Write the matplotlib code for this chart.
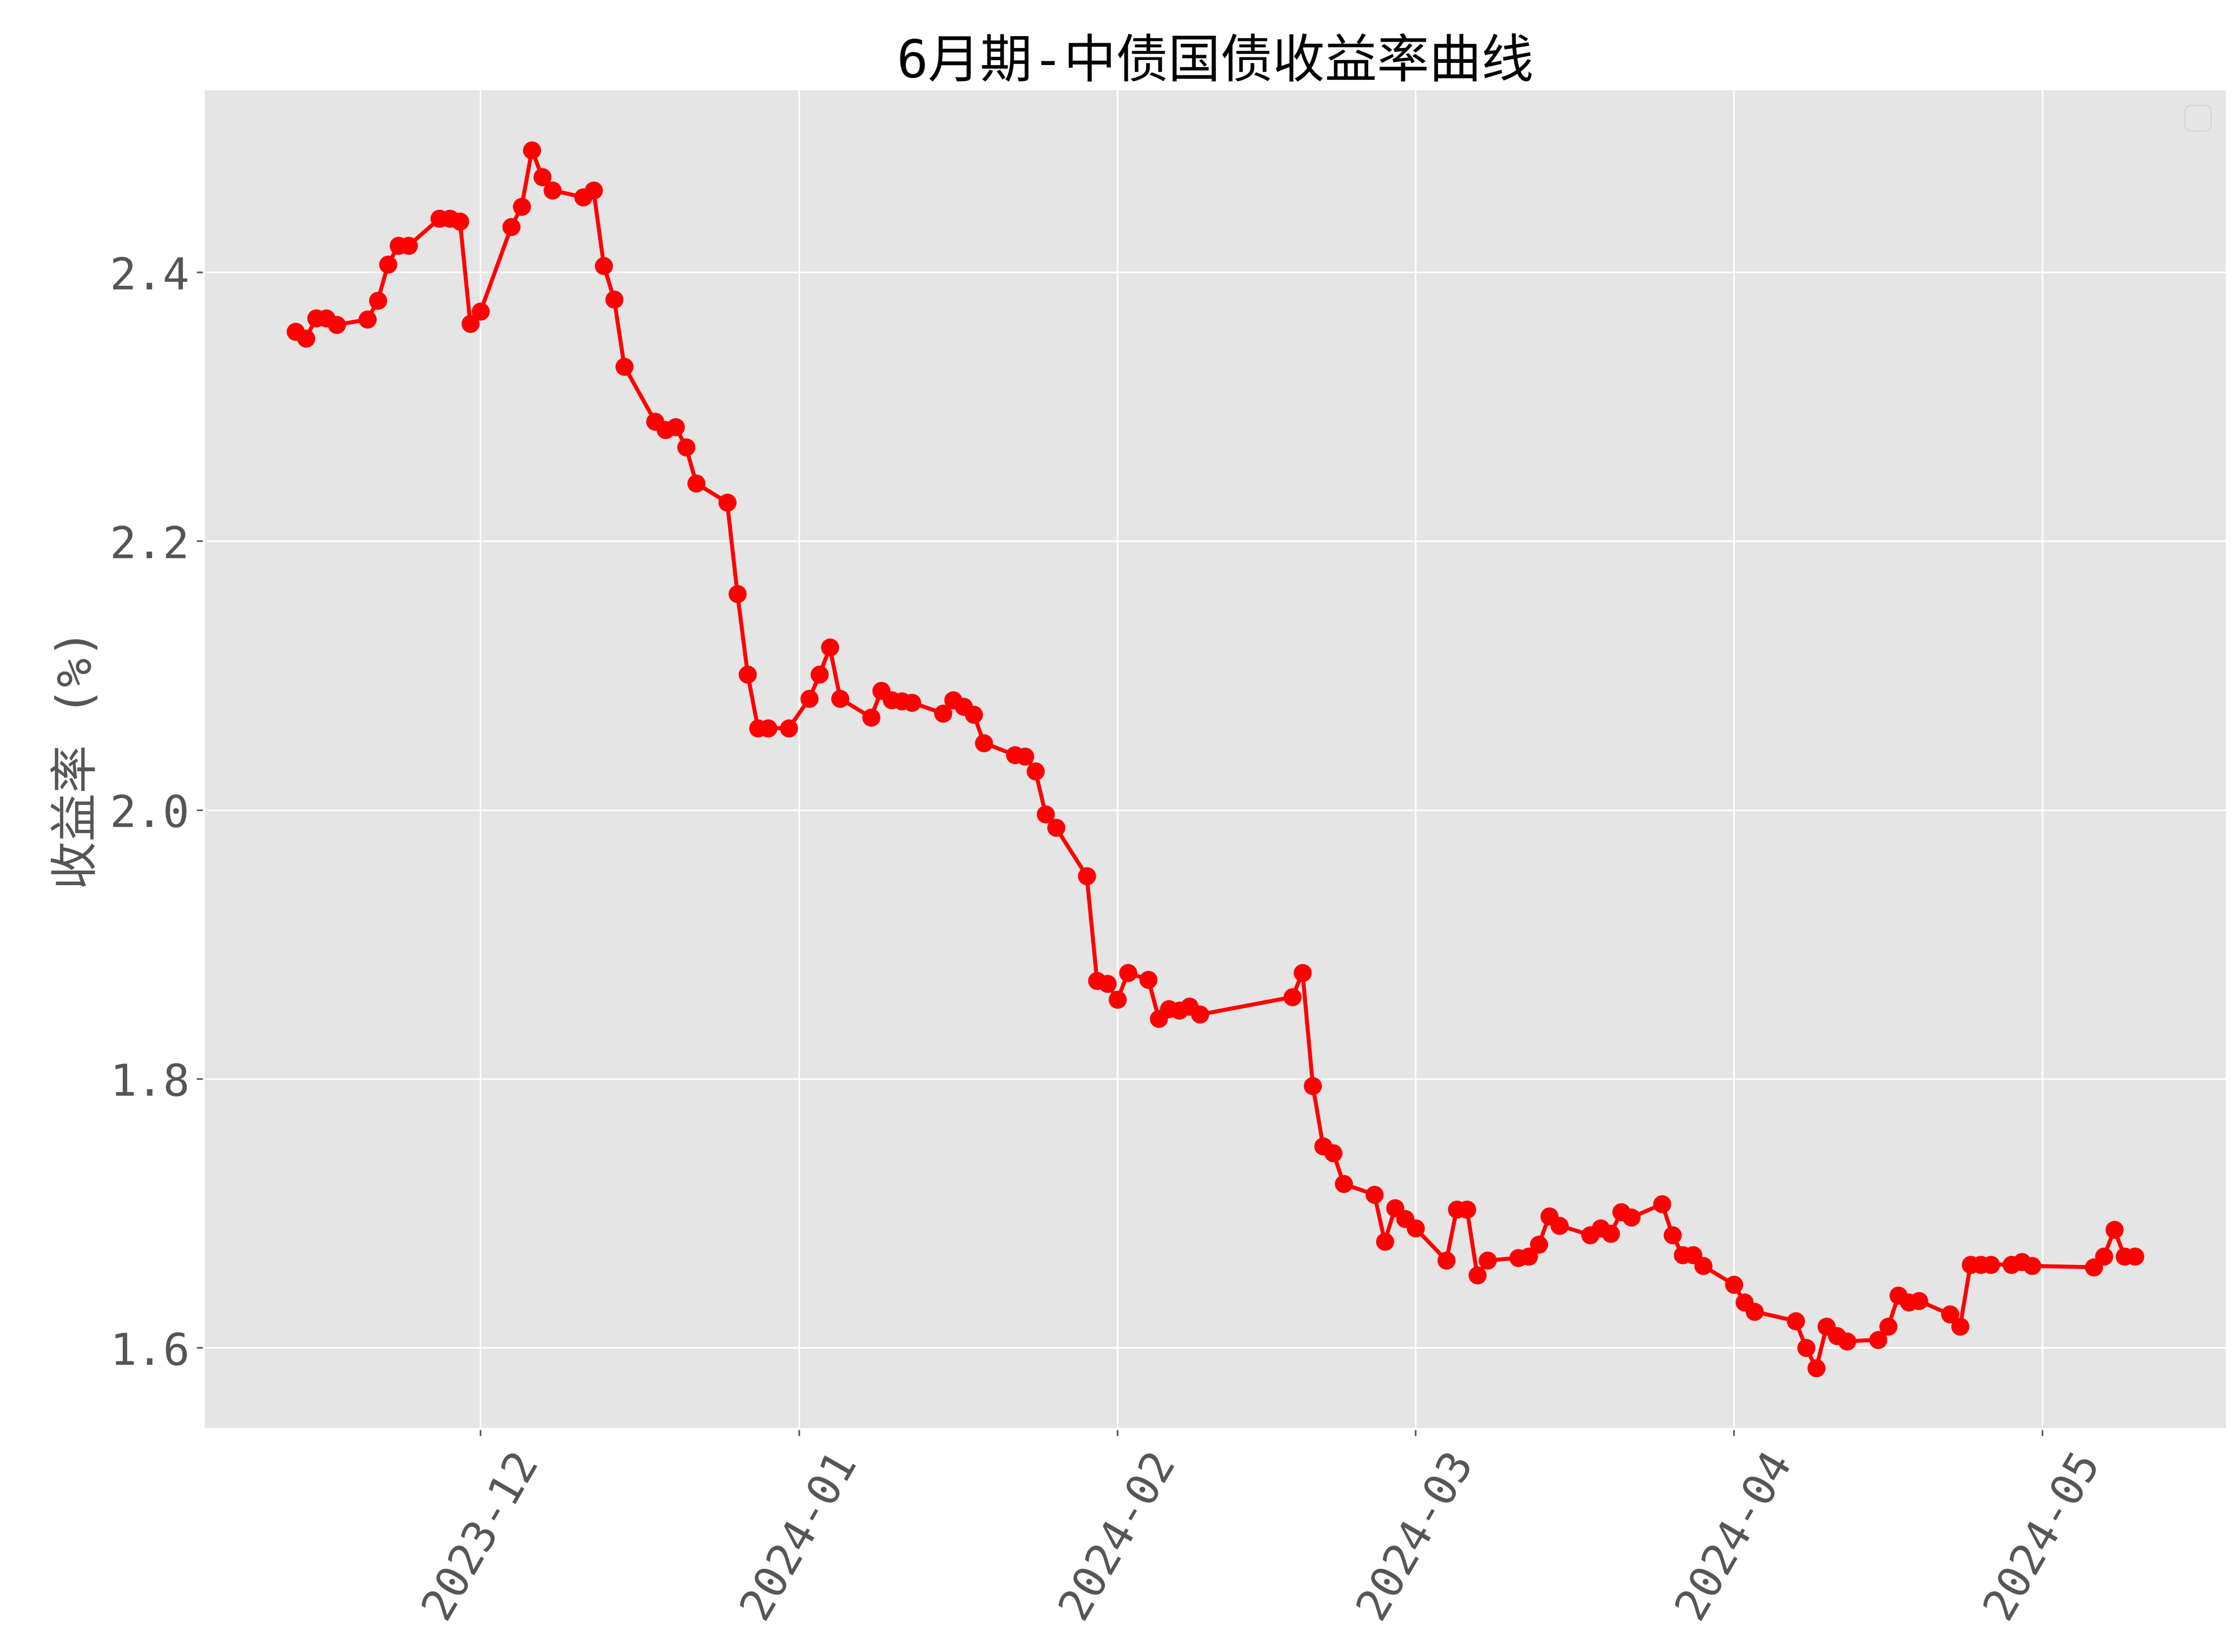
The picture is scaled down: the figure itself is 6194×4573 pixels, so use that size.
import matplotlib
matplotlib.use("Agg")
import matplotlib.pyplot as plt
import matplotlib.dates as mdates
import pandas as pd

# 6月期 中债国债收益率 (%)
dates = [
    "2023-11-13", "2023-11-14", "2023-11-15", "2023-11-16", "2023-11-17",
    "2023-11-20", "2023-11-21", "2023-11-22", "2023-11-23", "2023-11-24",
    "2023-11-27", "2023-11-28", "2023-11-29", "2023-11-30", "2023-12-01",
    "2023-12-04", "2023-12-05", "2023-12-06", "2023-12-07", "2023-12-08",
    "2023-12-11", "2023-12-12", "2023-12-13", "2023-12-14", "2023-12-15",
    "2023-12-18", "2023-12-19", "2023-12-20", "2023-12-21", "2023-12-22",
    "2023-12-25", "2023-12-26", "2023-12-27", "2023-12-28", "2023-12-29",
    "2023-12-31", "2024-01-02", "2024-01-03", "2024-01-04", "2024-01-05",
    "2024-01-08", "2024-01-09", "2024-01-10", "2024-01-11", "2024-01-12",
    "2024-01-15", "2024-01-16", "2024-01-17", "2024-01-18", "2024-01-19",
    "2024-01-22", "2024-01-23", "2024-01-24", "2024-01-25", "2024-01-26",
    "2024-01-29", "2024-01-30", "2024-01-31", "2024-02-01", "2024-02-02",
    "2024-02-04", "2024-02-05", "2024-02-06", "2024-02-07", "2024-02-08",
    "2024-02-09", "2024-02-18", "2024-02-19", "2024-02-20", "2024-02-21",
    "2024-02-22", "2024-02-23", "2024-02-26", "2024-02-27", "2024-02-28",
    "2024-02-29", "2024-03-01", "2024-03-04", "2024-03-05", "2024-03-06",
    "2024-03-07", "2024-03-08", "2024-03-11", "2024-03-12", "2024-03-13",
    "2024-03-14", "2024-03-15", "2024-03-18", "2024-03-19", "2024-03-20",
    "2024-03-21", "2024-03-22", "2024-03-25", "2024-03-26", "2024-03-27",
    "2024-03-28", "2024-03-29", "2024-04-01", "2024-04-02", "2024-04-03",
    "2024-04-07", "2024-04-08", "2024-04-09", "2024-04-10", "2024-04-11",
    "2024-04-12", "2024-04-15", "2024-04-16", "2024-04-17", "2024-04-18",
    "2024-04-19", "2024-04-22", "2024-04-23", "2024-04-24", "2024-04-25",
    "2024-04-26", "2024-04-28", "2024-04-29", "2024-04-30", "2024-05-06",
    "2024-05-07", "2024-05-08", "2024-05-09", "2024-05-10",
]
yields = [
    2.356, 2.351, 2.366, 2.366, 2.361,
    2.365, 2.379, 2.406, 2.420, 2.420,
    2.440, 2.440, 2.438, 2.362, 2.371,
    2.434, 2.449, 2.491, 2.471, 2.461,
    2.456, 2.461, 2.405, 2.380, 2.330,
    2.289, 2.283, 2.285, 2.270, 2.243,
    2.229, 2.161, 2.101, 2.061, 2.061,
    2.061, 2.083, 2.101, 2.121, 2.083,
    2.069, 2.089, 2.082, 2.081, 2.080,
    2.072, 2.082, 2.077, 2.071, 2.050,
    2.041, 2.040, 2.029, 1.997, 1.987,
    1.951, 1.873, 1.871, 1.859, 1.879,
    1.874, 1.845, 1.852, 1.851, 1.854,
    1.848, 1.861, 1.879, 1.795, 1.750,
    1.745, 1.722, 1.714, 1.679, 1.704,
    1.696, 1.689, 1.665, 1.703, 1.703,
    1.654, 1.665, 1.667, 1.668, 1.677,
    1.698, 1.691, 1.684, 1.689, 1.685,
    1.701, 1.697, 1.707, 1.684, 1.669,
    1.669, 1.661, 1.647, 1.634, 1.627,
    1.620, 1.600, 1.585, 1.616, 1.609,
    1.605, 1.606, 1.616, 1.639, 1.634,
    1.635, 1.625, 1.616, 1.662, 1.662,
    1.662, 1.662, 1.664, 1.661, 1.660,
    1.668, 1.688, 1.668, 1.668,
]

plt.style.use("ggplot")
# 等宽数字 + 中文字体，接近参考图的黑体风格
plt.rcParams['font.family'] = ['DejaVu Sans Mono', 'Noto Sans CJK SC']
plt.rcParams['axes.unicode_minus'] = False

x = pd.to_datetime(dates)

fig = plt.figure(figsize=(15.485, 11.4325), dpi=400)
ax = fig.add_axes([0.091, 0.135, 0.904, 0.811])
ax.plot(x, yields, color="red", marker="o", markersize=8, linewidth=2)

ax.set_title("6月期-中债国债收益率曲线", fontsize=26, color="black")
ax.set_ylabel("收益率 (%)", fontsize=24)
ax.xaxis.set_major_locator(mdates.MonthLocator())
ax.xaxis.set_major_formatter(mdates.DateFormatter("%Y-%m"))
ax.set_yticks([1.6, 1.8, 2.0, 2.2, 2.4])
ax.tick_params(axis="both", labelsize=22)
plt.setp(ax.get_xticklabels(), rotation=60)
ax.legend(loc="upper right", fontsize=16)

fig.savefig("out.png", dpi=400)
